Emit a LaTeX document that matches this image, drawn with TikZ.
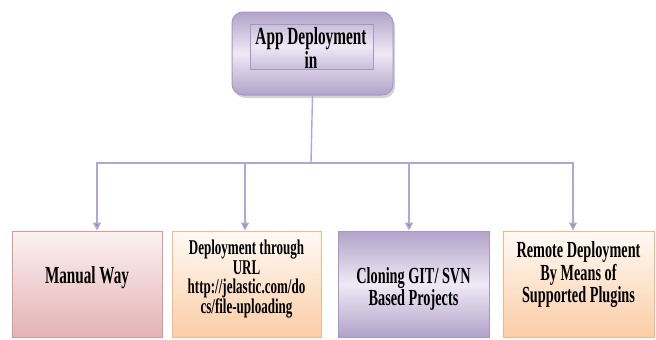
\documentclass[tikz,border=0pt]{standalone}
\usepackage{fontspec}
\newfontfamily\cfont[FakeStretch=0.62]{Liberation Serif}
\usetikzlibrary{arrows.meta,shadows}
\definecolor{lnpurple}{HTML}{B3A6D4}
\definecolor{arpurple}{HTML}{A08CC6}
\definecolor{pinkbot}{HTML}{E4B2B4}
\definecolor{pinktop}{HTML}{FCF2F2}
\definecolor{pinkbd}{HTML}{D9989A}
\definecolor{orbot}{HTML}{FBCDA6}
\definecolor{ortop}{HTML}{FFFAF5}
\definecolor{orbd}{HTML}{F4B88A}
\definecolor{pudark}{HTML}{B2A2C9}
\definecolor{pulight}{HTML}{EEEAF5}
\definecolor{pubd}{HTML}{A995C8}
\tikzset{
  boxbase/.style={draw, line width=1pt, minimum height=106pt, inner sep=0pt},
  pinkbox/.style={boxbase, draw=pinkbd, top color=pinktop, bottom color=pinkbot},
  orbox/.style={boxbase, draw=orbd, top color=ortop, bottom color=orbot},
  pubox/.style={boxbase, draw=pubd, shading angle=135, top color=pudark, bottom color=pudark, middle color=pulight},
  txt/.style={font=\cfont\bfseries, align=center, inner sep=0pt, text=black},
  conn/.style={draw=lnpurple, line width=1.4pt},
  arr/.style={conn, -{Triangle[width=8pt,length=8pt,fill=arpurple]}},
}
\begin{document}
\begin{tikzpicture}[x=1pt,y=-1pt]
\useasboundingbox (0,0) rectangle (656,340);
% top box
\node[draw=pubd, line width=1pt, rounded corners=11pt, minimum width=161pt, minimum height=83pt,
      shading angle=135, top color=pudark, bottom color=pudark, middle color=pulight,
      drop shadow={shadow xshift=2pt, shadow yshift=-3pt, opacity=0.35}] (top) at (312.5,53.5) {};
\node[draw=pubd, line width=0.8pt, minimum width=123pt, minimum height=45pt,
      shading angle=135, top color=pudark!70, bottom color=pudark!70, middle color=pulight] (inner) at (311.5,46.5) {};
\node[txt, font=\cfont\bfseries\fontsize{24.7}{20.5}\selectfont] (ttop) at (311,48) {App Deployment\\in};
% bottom boxes
\node[pinkbox, minimum width=150pt] (b1) at (87,284) {};
\node[orbox, minimum width=149pt] (b2) at (246.5,284) {};
\node[pubox, minimum width=151pt] (b3) at (413.5,284) {};
\node[orbox, minimum width=151pt] (b4) at (578.5,284) {};
\node[txt, font=\cfont\bfseries\fontsize{24.5}{22}\selectfont] (t1) at (87,278) {Manual Way};
\node[txt, font=\cfont\bfseries\fontsize{21}{19.5}\selectfont] (t2) at (246.5,279) {Deployment through\\URL\\http://jelastic.com/do\\cs/file-uploading};
\node[txt, font=\cfont\bfseries\fontsize{23}{22}\selectfont] (t3) at (413.5,289) {Cloning GIT/ SVN\\Based Projects};
\node[txt, font=\cfont\bfseries\fontsize{23}{22.5}\selectfont] (t4) at (578.5,275) {Remote Deployment\\By Means of\\Supported Plugins};
% connectors
\coordinate (hub) at (311,163);
\draw[conn] (top.south) -- (hub);
\draw[arr] (hub) -| ([xshift=10pt]b1.north);
\draw[arr] (hub) -| ([xshift=-1.5pt]b2.north);
\draw[arr] (hub) -| ([xshift=-4.5pt]b3.north);
\draw[arr] (hub) -| ([xshift=-5.5pt]b4.north);
\end{tikzpicture}
\end{document}
